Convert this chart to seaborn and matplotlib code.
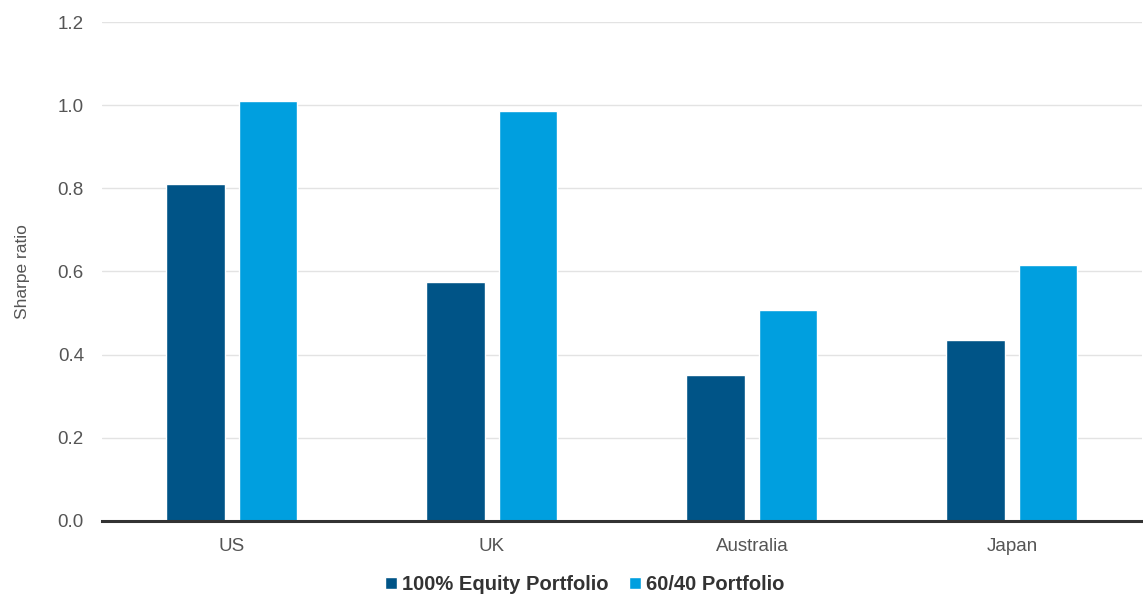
import matplotlib
matplotlib.use("Agg")
import matplotlib.pyplot as plt
import seaborn as sns
import pandas as pd

countries = ["US", "UK", "Australia", "Japan"]
series_names = ["100% Equity Portfolio", "60/40 Portfolio"]
equity_100 = [0.81, 0.575, 0.35, 0.435]
balanced_60_40 = [1.01, 0.985, 0.507, 0.616]
y_ticks = [0.0, 0.2, 0.4, 0.6, 0.8, 1.0, 1.2]

df = pd.DataFrame({
    "Country": countries * 2,
    "Portfolio": [series_names[0]] * 4 + [series_names[1]] * 4,
    "Sharpe": equity_100 + balanced_60_40,
})

sns.set_theme(style="white")
plt.rcParams["font.family"] = ["Liberation Sans", "DejaVu Sans"]

fig = plt.figure(figsize=(11.43, 5.98), dpi=100)
ax = fig.add_axes([0.0892, 0.1288, 0.9099, 0.8344])

palette = {series_names[0]: "#005487", series_names[1]: "#009FDF"}
sns.barplot(data=df, x="Country", y="Sharpe", hue="Portfolio", order=countries,
            hue_order=series_names, palette=palette, width=0.56, gap=0.2,
            saturation=1, ax=ax, legend=True)

ax.set_xlim(-0.5, 3.5)
ax.set_ylim(0, 1.2)
ax.set_yticks(y_ticks)
ax.set_yticklabels([f"{v:.1f}" for v in y_ticks])
ax.yaxis.grid(True, color="#e3e3e3", linewidth=1)
ax.set_axisbelow(True)
for s in ["top", "right", "left"]:
    ax.spines[s].set_visible(False)
ax.spines["bottom"].set_color("#333333")
ax.spines["bottom"].set_linewidth(2.2)
ax.spines["bottom"].set_zorder(5)
ax.tick_params(axis="both", length=0, labelsize=13.5, labelcolor="#555555")
ax.tick_params(axis="y", pad=13)
ax.tick_params(axis="x", pad=12)
ax.set_xlabel("")
ax.set_ylabel("Sharpe ratio", fontsize=12.5, color="#555555", labelpad=20)

handles, labels = ax.get_legend_handles_labels()
ax.legend(handles, labels, loc="upper center", bbox_to_anchor=(0.464, -0.072),
          ncol=2, frameon=False, handlelength=0.6, handleheight=0.6,
          handletextpad=0.25, columnspacing=1.0,
          prop={"weight": "bold", "size": 14.5})
for t in ax.get_legend().get_texts():
    t.set_color("#333333")

fig.savefig("out.png", dpi=100, facecolor="white")
